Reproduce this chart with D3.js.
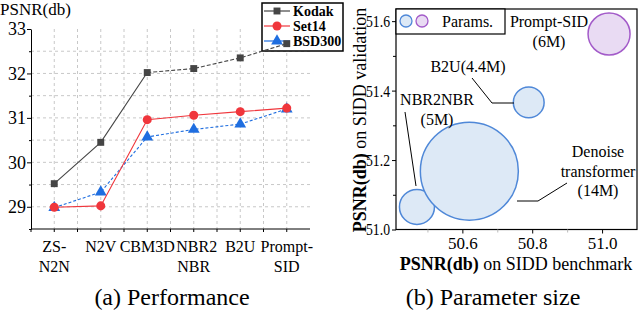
<!DOCTYPE html>
<html>
<head>
<meta charset="utf-8">
<script src="https://cdn.jsdelivr.net/npm/d3@7"></script>
<style>
  body { margin: 0; background: #fff; }
  svg { display: block; font-family: "Liberation Serif", "Times New Roman", serif; }
</style>
</head>
<body>
<div id="chart"></div>
<script>
// (a) performance data
const methods = ["ZS-N2N", "N2V", "CBM3D", "NBR2NBR", "B2U", "Prompt-SID"];
const methodLines = [["ZS-", "N2N"], ["N2V"], ["CBM3D"], ["NBR2", "NBR"], ["B2U"], ["Prompt-", "SID"]];
const kodak = [29.52, 30.45, 32.02, 32.11, 32.35, 32.67];
const set14 = [28.99, 29.02, 30.96, 31.06, 31.14, 31.22];
const bsd300 = [28.98, 29.33, 30.57, 30.74, 30.86, 31.20];
const yTicksA = [29, 30, 31, 32, 33];

// (b) parameter size data
const bubbleNames = ["NBR2NBR", "Denoise transformer", "B2U", "Prompt-SID"];
const benchX = [50.47, 50.62, 50.79, 51.02];
const validY = [51.065, 51.168, 51.366, 51.563];
const paramsM = [5, 14, 4.4, 6];
const xTicksB = [50.6, 50.8, 51.0];
const yTicksB = [51.0, 51.2, 51.4, 51.6];

const W = 640, H = 313;
const svg = d3.select("#chart").append("svg").attr("width", W).attr("height", H);

// ---------- (a) ----------
const gA = svg.append("g");
const x = d3.scalePoint().domain(methods).range([31, 310]).padding(0.5);
const y = d3.scaleLinear().domain([28.5, 33]).range([229, 29]);
const half = x.step() / 2;

// grid
const vx = d3.range(1, 12).map(k => 31 + k * half);
gA.selectAll(".vg").data(vx).enter().append("line")
  .attr("x1", d => d).attr("x2", d => d).attr("y1", y(33)).attr("y2", y(28.5))
  .attr("stroke", "#c8c8c8").attr("stroke-dasharray", "3,3");
gA.selectAll(".hg").data(d3.range(29, 33, 0.5)).enter().append("line")
  .attr("x1", 31).attr("x2", 310).attr("y1", d => y(d)).attr("y2", d => y(d))
  .attr("stroke", "#c8c8c8").attr("stroke-dasharray", "3,3");

// axes
const yAxA = gA.append("g").attr("transform", "translate(31,0)")
  .call(d3.axisLeft(y).tickValues(yTicksA).tickSize(4).tickSizeOuter(0).tickFormat(d3.format("d")));
gA.append("g").attr("transform", "translate(31,0)")
  .call(d3.axisLeft(y).tickValues(d3.range(28.5, 33, 0.5).filter(v => v % 1 !== 0)).tickSize(2).tickFormat(""))
  .select(".domain").remove();
yAxA.selectAll("text").attr("font-size", 18).attr("fill", "#000").attr("x", -5)
  .style("font-family", "Liberation Serif");
gA.append("line").attr("x1", 31).attr("x2", 310).attr("y1", 229).attr("y2", 229).attr("stroke", "#000");
gA.selectAll(".xt").data([31].concat(vx)).enter().append("line")
  .attr("x1", d => d).attr("x2", d => d).attr("y1", 229).attr("y2", 232).attr("stroke", "#000");

methods.forEach((m, i) => {
  const t = gA.append("text").attr("text-anchor", "middle").attr("font-size", 16);
  methodLines[i].forEach((s, j) => {
    t.append("tspan").attr("x", x(m) + (m === "NBR2NBR" && j === 0 ? 3 : 0)).attr("y", 252 + j * 20).text(s);
  });
});
gA.append("text").attr("x", 0).attr("y", 15).attr("font-size", 17).text("PSNR(db)");

// legend (drawn under the data)
const leg = gA.append("g");
leg.append("rect").attr("x", 262).attr("y", 3).attr("width", 81).attr("height", 48)
  .attr("fill", "#fff").attr("stroke", "#000").attr("stroke-width", 1.5);
const series = [
  { name: "Kodak", vals: kodak, color: "#454545", shape: d3.symbolSquare, size: 48, dash: null },
  { name: "Set14", vals: set14, color: "#f0363c", shape: d3.symbolCircle, size: 64, dash: null },
  { name: "BSD300", vals: bsd300, color: "#1f6ee0", shape: d3.symbolTriangle, size: 60, dash: "3,2" }
];
series.forEach((s, i) => {
  const ly = 11 + i * 15;
  leg.append("line").attr("x1", 264).attr("x2", 290).attr("y1", ly).attr("y2", ly)
    .attr("stroke", s.color).attr("stroke-width", 1.2);
  leg.append("path").attr("d", d3.symbol(s.shape, s.size)())
    .attr("transform", `translate(277,${ly})`).attr("fill", s.color);
  leg.append("text").attr("x", 293).attr("y", ly + 5).attr("font-size", 14)
    .attr("font-weight", "bold").text(s.name);
});

// lines and markers
const line = d3.line().x((d, i) => x(methods[i])).y(d => y(d));
series.slice().reverse().forEach(s => {
  if (s.name === "Kodak") {
    gA.append("path").datum(s.vals.slice(0, 3))
      .attr("d", d3.line().x((d, i) => x(methods[i])).y(d => y(d)))
      .attr("fill", "none").attr("stroke", s.color).attr("stroke-width", 1.1);
    gA.append("path").datum(s.vals.slice(2))
      .attr("d", d3.line().x((d, i) => x(methods[i + 2])).y(d => y(d)))
      .attr("fill", "none").attr("stroke", s.color).attr("stroke-width", 1.1).attr("stroke-dasharray", "4,2");
  } else {
    gA.append("path").datum(s.vals).attr("d", line)
      .attr("fill", "none").attr("stroke", s.color).attr("stroke-width", 1.1)
      .attr("stroke-dasharray", s.dash);
  }
  gA.selectAll(null).data(s.vals).enter().append("path")
    .attr("d", d3.symbol(s.shape, s.size)())
    .attr("transform", (d, i) => `translate(${x(methods[i])},${y(d)})`)
    .attr("fill", s.color);
});

gA.append("text").attr("x", 172).attr("y", 305).attr("text-anchor", "middle")
  .attr("font-size", 24).text("(a) Performance");

// ---------- (b) ----------
const gB = svg.append("g");
const bx = d3.scaleLinear().domain([50.41, 51.1]).range([396, 637]);
const by = d3.scaleLinear().domain([51.0, 51.635]).range([229.5, 9]);
const br = d3.scaleLinear().domain([0, 14]).range([0, 49]);

gB.append("rect").attr("x", 396).attr("y", 9).attr("width", 241).attr("height", 220.5)
  .attr("fill", "none").attr("stroke", "#000").attr("stroke-width", 1.2);

const xAxB = gB.append("g").attr("transform", "translate(0,229.5)")
  .call(d3.axisBottom(bx).tickValues(xTicksB).tickSize(4).tickSizeOuter(0).tickFormat(d3.format(".1f")));
xAxB.select(".domain").remove();
xAxB.selectAll("text").attr("font-size", 17).attr("y", 6).attr("dy", "0.8em")
  .style("font-family", "Liberation Serif");
gB.append("g").attr("transform", "translate(0,229.5)")
  .call(d3.axisBottom(bx).tickValues([50.5, 50.7, 50.9]).tickSize(3).tickFormat(""))
  .call(g => g.select(".domain").remove())
  .selectAll("line").attr("stroke", "#bbb");

const yAxB = gB.append("g").attr("transform", "translate(396,0)")
  .call(d3.axisLeft(by).tickValues(yTicksB).tickSize(4).tickSizeOuter(0).tickFormat(d3.format(".1f")));
yAxB.select(".domain").remove();
yAxB.selectAll("text").attr("font-size", 17).attr("x", -6)
  .attr("textLength", 24).attr("lengthAdjust", "spacingAndGlyphs")
  .style("font-family", "Liberation Serif");
gB.append("g").attr("transform", "translate(396,0)")
  .call(d3.axisLeft(by).tickValues([51.1, 51.3, 51.5]).tickSize(3).tickFormat(""))
  .select(".domain").remove();

// bubbles
const bubbles = bubbleNames.map((n, i) => ({ name: n, x: benchX[i], y: validY[i], p: paramsM[i] }));
gB.selectAll(".bub").data(bubbles).enter().append("circle")
  .attr("cx", d => bx(d.x)).attr("cy", d => by(d.y)).attr("r", d => br(d.p))
  .attr("fill", d => d.name === "Prompt-SID" ? "#e9dbf3" : "#dde9f6")
  .attr("stroke", d => d.name === "Prompt-SID" ? "#a35bc9" : "#4f88d8")
  .attr("stroke-width", 1.5);

// annotations
const labels = [
  { lines: ["Prompt-SID", "(6M)"], x: 549, y: 27 },
  { lines: ["B2U(4.4M)"], x: 468, y: 72 },
  { lines: ["NBR2NBR", "(5M)"], x: 437, y: 105 },
  { lines: ["Denoise", "transformer", "(14M)"], x: 598, y: 157 }
];
labels.forEach(l => {
  const t = gB.append("text").attr("text-anchor", "middle").attr("font-size", 16);
  l.lines.forEach((s, j) => t.append("tspan").attr("x", l.x).attr("y", l.y + j * 19.5).text(s));
});
const leaders = [
  [[472, 78], [492, 103], [514, 103]],
  [[405, 112], [416, 186]],
  [[517, 201], [538, 201], [567, 183]]
];
gB.selectAll(".ld").data(leaders).enter().append("path")
  .attr("d", d3.line()).attr("fill", "none").attr("stroke", "#000").attr("stroke-width", 1);

// legend
gB.append("rect").attr("x", 396).attr("y", 9).attr("width", 109).attr("height", 25)
  .attr("fill", "#fff").attr("stroke", "#000").attr("stroke-width", 1.2);
gB.append("circle").attr("cx", 406).attr("cy", 21).attr("r", 6)
  .attr("fill", "#dde9f6").attr("stroke", "#4f88d8").attr("stroke-width", 1.3);
gB.append("circle").attr("cx", 422).attr("cy", 21).attr("r", 6)
  .attr("fill", "#e9dbf3").attr("stroke", "#a35bc9").attr("stroke-width", 1.3);
gB.append("text").attr("x", 442).attr("y", 26.5).attr("font-size", 16).text("Params.");

// axis titles
const yt = gB.append("text").attr("transform", "translate(366,120) rotate(-90)")
  .attr("text-anchor", "middle").attr("font-size", 18);
yt.append("tspan").attr("font-weight", "bold").text("PSNR(db)");
yt.append("tspan").text(" on SIDD validation");
const xt = gB.append("text").attr("x", 516).attr("y", 270).attr("text-anchor", "middle").attr("font-size", 18);
xt.append("tspan").attr("font-weight", "bold").text("PSNR(db)");
xt.append("tspan").text(" on SIDD benchmark");

gB.append("text").attr("x", 493).attr("y", 305).attr("text-anchor", "middle")
  .attr("font-size", 24).text("(b) Parameter size");
</script>
</body>
</html>
